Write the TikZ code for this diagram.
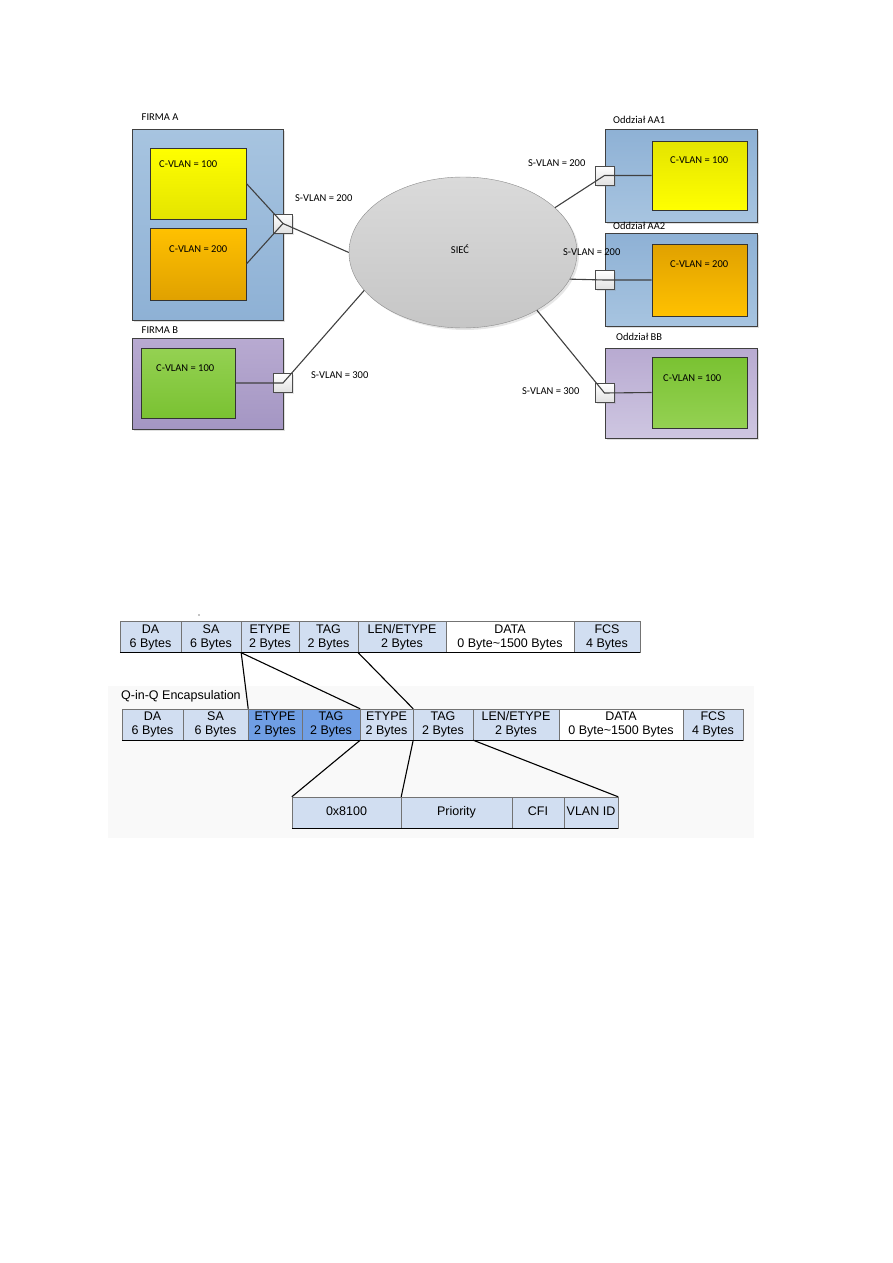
\documentclass[tikz,border=0pt]{standalone}
\usepackage{fontspec}
\newfontfamily\netfont{Carlito}
\newfontfamily\framefont{Liberation Sans}
\usetikzlibrary{shapes.geometric,shadows}
\definecolor{bluelight}{RGB}{167,196,224}
\definecolor{bluedark}{RGB}{142,177,213}
\definecolor{yellowlight}{RGB}{255,255,0}
\definecolor{yellowdark}{RGB}{228,228,0}
\definecolor{orangelight}{RGB}{255,193,0}
\definecolor{orangedark}{RGB}{224,161,0}
\definecolor{greenlight}{RGB}{148,209,82}
\definecolor{greendark}{RGB}{122,194,50}
\definecolor{violetlight}{RGB}{206,198,225}
\definecolor{violetmid}{RGB}{184,170,209}
\definecolor{violetdark}{RGB}{164,150,195}
\definecolor{cloudtop}{RGB}{218,218,218}
\definecolor{cloudbot}{RGB}{198,198,198}
\definecolor{cellblue}{RGB}{209,222,241}
\definecolor{tagblue}{RGB}{111,158,228}
\definecolor{wire}{RGB}{64,64,64}

\begin{document}
\begin{tikzpicture}[x=1pt,y=-1pt,
    site/.style={draw=black!75,line width=0.8pt,inner sep=0pt,
      drop shadow={shadow xshift=2pt,shadow yshift=-2pt,opacity=.25}},
    vlan/.style={draw=black!80,line width=0.8pt,inner sep=0pt},
    port/.style={draw=black!70,line width=0.6pt,top color=white,bottom color=black!12,
      minimum width=19pt,minimum height=19pt,inner sep=0pt,
      drop shadow={shadow xshift=1.5pt,shadow yshift=-1.5pt,opacity=.2}},
    link/.style={wire,line width=1.1pt},
    lbl/.style={font=\netfont\fontsize{10.5}{12}\selectfont,anchor=west,inner sep=0pt},
    cell/.style={draw=black!55,fill=cellblue,minimum height=31pt,inner sep=0pt,align=center,
      font=\framefont\fontsize{12.5}{14}\selectfont},
    field/.style={cell,text height=9pt,text depth=2.7pt},
    rowedge/.style={black,line width=1pt},
    cut/.style={black,line width=1.1pt}]
  \useasboundingbox (0,0) rectangle (893,1263);

  % network
  \node[ellipse,draw=black!45,top color=cloudtop,bottom color=cloudbot,minimum width=228pt,
    minimum height=151pt,inner sep=0pt,drop shadow={shadow xshift=2pt,shadow yshift=-2pt,opacity=.2}] (net) at (463,252.5) {};
  \node[lbl,anchor=center] (netlbl) at (460,249) {SIEĆ};

  \node[site,top color=bluelight,bottom color=bluedark,minimum width=151pt,minimum height=191pt] (firmaA) at (207.5,224.5) {};
  \node[lbl] (firmaAlbl) at (141.5,117) {FIRMA A};
  \node[vlan,top color=yellowlight,bottom color=yellowdark,minimum width=96pt,minimum height=71pt] (cA1) at (198,183.5) {};
  \node[vlan,top color=orangelight,bottom color=orangedark,minimum width=96pt,minimum height=72pt] (cA2) at (198,264) {};
  \node[lbl] (cA1lbl) at (159,164) {C-VLAN = 100};
  \node[lbl] (cA2lbl) at (169,249) {C-VLAN = 200};

  \node[site,top color=violetmid,bottom color=violetdark,minimum width=151pt,minimum height=91pt] (firmaB) at (207.5,383.5) {};
  \node[lbl] (firmaBlbl) at (141.5,330) {FIRMA B};
  \node[vlan,top color=greenlight,bottom color=greendark,minimum width=94pt,minimum height=70pt] (cB1) at (188,383) {};
  \node[lbl] (cB1lbl) at (156,368) {C-VLAN = 100};

  \node[site,top color=bluedark,bottom color=bluelight,minimum width=152pt,minimum height=93pt] (oddzAA1) at (681,175.5) {};
  \node[lbl] (oddzAA1lbl) at (613,120) {Oddział AA1};
  \node[vlan,top color=yellowdark,bottom color=yellowlight,minimum width=95pt,minimum height=69pt] (cAA1) at (699.5,175.5) {};
  \node[lbl] (cAA1lbl) at (670,160) {C-VLAN = 100};

  \node[site,top color=bluedark,bottom color=bluelight,minimum width=152pt,minimum height=93pt] (oddzAA2) at (681,279.5) {};
  \node[lbl] (oddzAA2lbl) at (613,226) {Oddział AA2};
  \node[vlan,top color=orangedark,bottom color=orangelight,minimum width=95pt,minimum height=72pt] (cAA2) at (699.5,280) {};
  \node[lbl] (cAA2lbl) at (670,264) {C-VLAN = 200};

  \node[site,top color=violetmid,bottom color=violetlight,minimum width=152pt,minimum height=90pt] (oddzBB) at (681,393) {};
  \node[lbl] (oddzBBlbl) at (616,337) {Oddział BB};
  \node[vlan,top color=greendark,bottom color=greenlight,minimum width=95pt,minimum height=71pt] (cBB) at (699.5,392.5) {};
  \node[lbl] (cBBlbl) at (663,378) {C-VLAN = 100};

  % ports
  \node[port] (pA) at (283,223.5) {};
  \node[port] (pB) at (283,383) {};
  \node[port] (pAA1) at (604.5,175.5) {};
  \node[port] (pAA2) at (604.5,280) {};
  \node[port] (pBB) at (604.5,393) {};

  \draw[link] (cA1.east) -- (pA.center) -- (net.west);
  \draw[link] (cA2.east) -- (pA.center);
  \draw[link] (cB1.east) -- (pB.center) -- (net.201);
  \draw[link] (cAA1.west) -- (pAA1.center) -- (net.26);
  \draw[link] (cAA2.west) -- (pAA2.center) -- (net.346);
  \draw[link] (cBB.west) -- (pBB.center) -- (net.322);

  \node[lbl] (sA) at (295,198) {S-VLAN = 200};
  \node[lbl] (sB) at (311,375) {S-VLAN = 300};
  \node[lbl] (sAA1) at (528,163) {S-VLAN = 200};
  \node[lbl] (sAA2) at (563,252) {S-VLAN = 200};
  \node[lbl] (sBB) at (522,391) {S-VLAN = 300};

  % frames
  \fill[black!2.5] (108,686) rectangle (754,838);
  \fill (199,615) circle (0.6pt);

  \foreach \xa/\xb/\txt/\c [count=\i] in {120/181/{DA\\6 Bytes}/cellblue,181/241/{SA\\6 Bytes}/cellblue,
      241/299/{ETYPE\\2 Bytes}/cellblue,299/358/{TAG\\2 Bytes}/cellblue,358/446/{LEN/ETYPE\\2 Bytes}/cellblue,
      446/574/{DATA\\0 Byte\textasciitilde1500 Bytes}/white,574/640/{FCS\\4 Bytes}/cellblue}
    \node[cell,fill=\c,minimum width={(\xb-\xa)*1pt}] (t\i) at ({(\xa+\xb)/2},637) {\txt};
  \draw[rowedge] (t1.south west) -- (t7.south east);

  \node[anchor=south west,inner sep=0pt,font=\framefont\fontsize{12.5}{14}\selectfont] (qinq) at (121,702) {Q-in-Q Encapsulation};
  \foreach \xa/\xb/\txt/\c [count=\i] in {122/183/{DA\\6 Bytes}/cellblue,183/248/{SA\\6 Bytes}/cellblue,
      248/302/{ETYPE\\2 Bytes}/tagblue,302/360/{TAG\\2 Bytes}/tagblue,360/413/{ETYPE\\2 Bytes}/cellblue,
      413/473/{TAG\\2 Bytes}/cellblue,473/559/{LEN/ETYPE\\2 Bytes}/cellblue,
      559/683/{DATA\\0 Byte\textasciitilde1500 Bytes}/white,683/743/{FCS\\4 Bytes}/cellblue}
    \node[cell,fill=\c,minimum width={(\xb-\xa)*1pt}] (q\i) at ({(\xa+\xb)/2},724.5) {\txt};
  \draw[rowedge] (q1.south west) -- (q9.south east);

  \foreach \xa/\xb/\txt [count=\i] in {292/401/0x8100,401/512/Priority,512/564/CFI,564/618/VLAN ID}
    \node[field,minimum width={(\xb-\xa)*1pt}] (f\i) at ({(\xa+\xb)/2},812.5) {\txt};
  \draw[rowedge] (f1.south west) -- (f4.south east);

  \draw[cut] (t2.south east) -- (q2.north east);
  \draw[cut] (t2.south east) -- (q4.north east);
  \draw[cut] (t4.south east) -- (q5.north east);
  \draw[cut] (q4.south east) -- (f1.north west);
  \draw[cut] (q5.south east) -- (f1.north east);
  \draw[cut] (q6.south east) -- (f4.north east);
\end{tikzpicture}
\end{document}
